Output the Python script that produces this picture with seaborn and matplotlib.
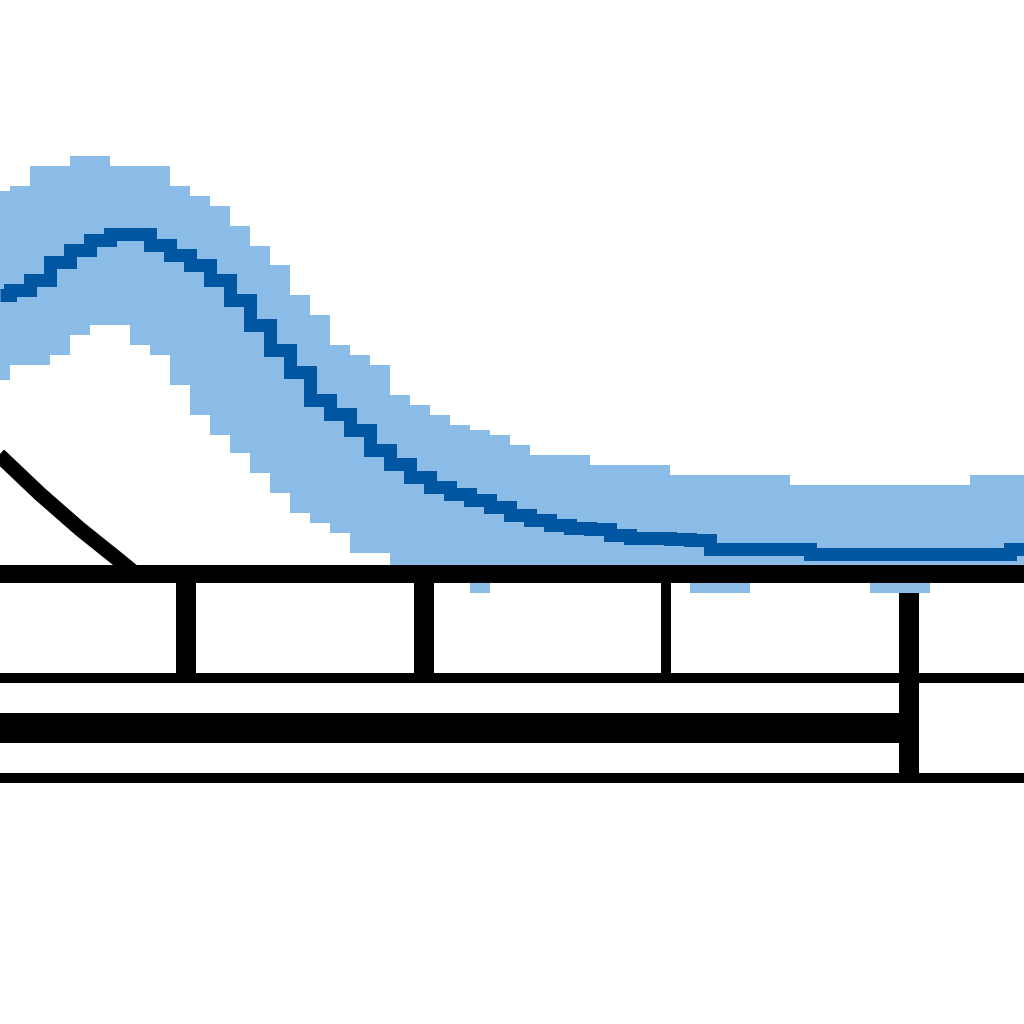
import matplotlib
matplotlib.use("Agg")
import matplotlib.pyplot as plt
import seaborn as sns
import numpy as np
import pandas as pd

sns.set_style("white")

# ---- data (x in chart units) ----
x = list(range(0, 106, 2))
upper = [38.3, 38.8, 40.8, 40.8, 41.8, 41.8, 40.8, 40.8, 40.8, 38.8,
         37.8, 36.8, 34.8, 32.8, 30.9, 27.9, 25.9, 22.9, 21.9, 20.9,
         17.9, 16.9, 15.9, 14.9, 14.4, 13.9, 12.9, 11.9, 11.9, 11.9,
         10.9, 10.9, 10.9, 10.9, 9.9, 9.9, 9.9, 9.9, 9.9, 9.9,
         8.9, 8.9, 8.9, 8.9, 8.9, 8.9, 8.9, 8.9, 8.9, 9.9,
         9.9, 9.9, 9.9]
lower = [19.4, 20.9, 20.9, 21.9, 23.9, 24.9, 24.9, 22.9, 21.9, 18.9,
         15.9, 13.9, 12.1, 10.1, 8.1, 6.1, 5.1, 4.1, 2.1, 2.1,
         0.9, -0.4, -0.4, -0.4, -1.9, -0.4, -0.4, -0.4, -0.4, -0.4,
         -0.4, -0.4, -0.4, -0.4, -0.4, -1.9, -1.9, -1.9, -0.4, -0.4,
         -0.4, -0.4, -0.4, -0.4, -1.9, -1.9, -1.9, -0.4, -0.4, -0.4,
         -0.4, -0.4, -0.4]
mean = [27.9, 28.4, 29.4, 31.2, 32.4, 33.4, 34.0, 34.0, 32.9, 31.9,
        30.9, 29.4, 27.4, 24.9, 22.4, 20.2, 17.4, 16.0, 14.4, 12.4,
        11.0, 9.7, 8.7, 8.0, 7.4, 6.7, 5.9, 5.4, 4.9, 4.6,
        4.5, 3.9, 3.6, 3.6, 3.5, 3.4, 2.5, 2.5, 2.5, 2.5,
        2.5, 2.0, 2.0, 2.0, 2.0, 2.0, 2.0, 2.0, 2.0, 2.0,
        2.0, 2.5, 2.5]

ref_x = [-2, 0, 4, 8, 12, 16]
ref_y = [13.6, 11.8, 8.0, 4.5, 1.3, -2.0]

tick_pos = [18.55, 42.35, 66.6, 90.85]
tick_w_px = [20, 20, 10, 20]
bar_value = [91.0]
marker_x = 90.85

LIGHT = "#8abce7"
DARK = "#0056a0"

px = 72 / 100.0  # points per pixel at dpi 100

fig = plt.figure(figsize=(10.24, 10.24), dpi=100)
fig.patch.set_facecolor("white")

# main axes: bottom spine centred at y=574 px
ax = fig.add_axes([0, (1024 - 574) / 1024, 1, 574 / 1024])
ax.set_xlim(0, 102.4)
ax.set_ylim(0, 57.4)
ax.patch.set_alpha(0)

ax.fill_between(x, lower, upper, step="mid", color=LIGHT, linewidth=0,
                clip_on=False, zorder=1)
df = pd.DataFrame({"x": x, "y": mean})
sns.lineplot(data=df, x="x", y="y", ax=ax, color=DARK, linewidth=13 * px,
             drawstyle="steps-mid", solid_capstyle="butt",
             solid_joinstyle="miter", zorder=2)
dref = pd.DataFrame({"x": ref_x, "y": ref_y})
sns.lineplot(data=dref, x="x", y="y", ax=ax, color="black",
             linewidth=15 * px, solid_capstyle="butt", zorder=3)

for s in ["top", "left", "right"]:
    ax.spines[s].set_visible(False)
ax.spines["bottom"].set_linewidth(18 * px)
ax.spines["bottom"].set_color("black")
ax.spines["bottom"].set_zorder(5)
ax.set_xticks(tick_pos)
ax.set_xticklabels([])
ax.set_yticks([])
ax.tick_params(axis="x", direction="out", length=99 * px, color="black",
               bottom=True)
for t, w in zip(ax.xaxis.get_major_ticks(), tick_w_px):
    t.tick1line.set_markeredgewidth(w * px)
ax.set_xlabel("")
ax.set_ylabel("")

# lower panel
ax2 = fig.add_axes([0, (1024 - 778) / 1024, 1, 100 / 1024])
ax2.set_xlim(0, 102.4)
ax2.set_ylim(-0.5, 0.5)
ax2.patch.set_alpha(0)
ax2.barh([0], [b + 2 for b in bar_value], height=0.3, left=-2,
         color="black", linewidth=0)
ax2.axvline(marker_x, ymin=0.05, ymax=1.0, color="black", linewidth=20 * px)
for s in ["left", "right"]:
    ax2.spines[s].set_visible(False)
for s in ["top", "bottom"]:
    ax2.spines[s].set_linewidth(10 * px)
    ax2.spines[s].set_color("black")
ax2.set_xticks([])
ax2.set_yticks([])

fig.savefig("out.png", dpi=100, facecolor="white")
